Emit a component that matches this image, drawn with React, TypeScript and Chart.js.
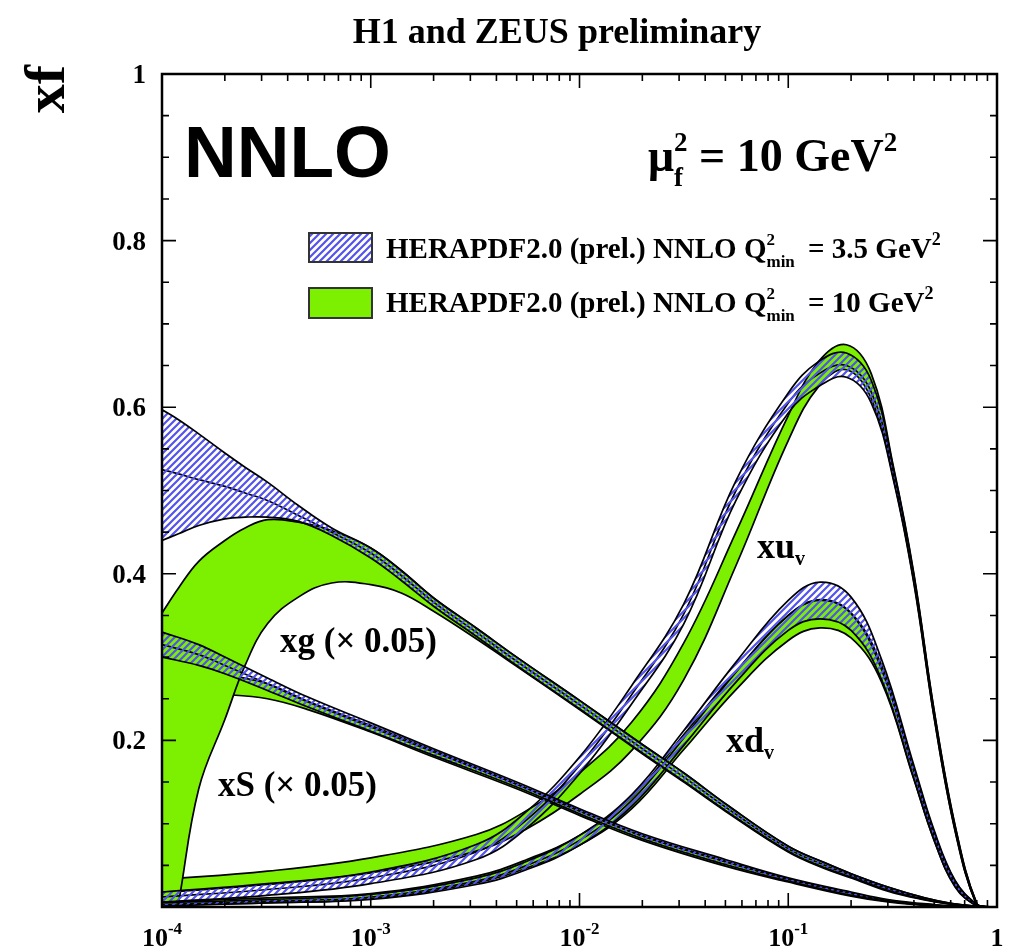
import React, { useEffect, useRef } from 'react';
import { Chart, registerables } from 'chart.js';
Chart.register(...registerables);

const SERIF = '"Liberation Serif", "Times New Roman", serif';
const SANS = '"Liberation Sans", Arial, sans-serif';

// ---------- axis ticks ----------
const xMajorTicks = [0.0001, 0.001, 0.01, 0.1, 1];
const xTickBase = ['10', '10', '10', '10', '1'];
const xTickExp = ['-4', '-3', '-2', '-1', ''];
const yMajorTicks = [0, 0.2, 0.4, 0.6, 0.8, 1];
const yTickLabels = ['', '0.2', '0.4', '0.6', '0.8', '1'];

// ---------- xg (x 0.05) ----------
const xgX = [0.0001, 0.00012, 0.00015, 0.0002, 0.00025, 0.00032, 0.00045, 0.00065, 0.001, 0.0014, 0.002, 0.0032, 0.005, 0.01, 0.02, 0.032, 0.05, 0.1, 0.15, 0.2, 0.3, 0.45, 0.6, 0.8, 1];
const xgHatchHi = [0.597, 0.585, 0.568, 0.545, 0.528, 0.51, 0.482, 0.455, 0.431, 0.404, 0.371, 0.335, 0.3, 0.248, 0.195, 0.16, 0.124, 0.073, 0.053, 0.04, 0.024, 0.011, 0.0045, 0.001, 0];
const xgHatchMid = [0.525, 0.52, 0.513, 0.505, 0.497, 0.488, 0.47, 0.45, 0.425, 0.398, 0.366, 0.33, 0.295, 0.243, 0.19, 0.155, 0.12, 0.07, 0.05, 0.038, 0.022, 0.01, 0.004, 0.0008, 0];
const xgHatchLo = [0.44, 0.448, 0.458, 0.466, 0.468, 0.468, 0.463, 0.446, 0.419, 0.392, 0.361, 0.325, 0.29, 0.238, 0.185, 0.15, 0.116, 0.067, 0.047, 0.036, 0.02, 0.009, 0.0035, 0.0006, 0];
const xgGreenHi = [0.353, 0.383, 0.415, 0.44, 0.455, 0.465, 0.462, 0.452, 0.431, 0.404, 0.371, 0.335, 0.3, 0.248, 0.195, 0.16, 0.124, 0.073, 0.053, 0.04, 0.024, 0.011, 0.0045, 0.001, 0];
const xgGreenMid = [-0.03, 0.092, 0.22, 0.3, 0.335, 0.365, 0.397, 0.413, 0.418, 0.398, 0.364, 0.328, 0.294, 0.242, 0.189, 0.154, 0.119, 0.069, 0.049, 0.037, 0.021, 0.0095, 0.0038, 0.0007, 0];
const xgGreenLo = [-0.1, 0.005, 0.142, 0.225, 0.29, 0.34, 0.372, 0.389, 0.387, 0.377, 0.355, 0.322, 0.289, 0.237, 0.184, 0.149, 0.115, 0.066, 0.046, 0.035, 0.019, 0.0085, 0.0033, 0.0005, 0];

// ---------- xS (x 0.05) ----------
const xSX = [0.0001, 0.00015, 0.0002, 0.00032, 0.0005, 0.001, 0.002, 0.005, 0.01, 0.02, 0.05, 0.1, 0.2, 0.3, 0.5, 0.7, 1];
const xSHatchHi = [0.33, 0.315, 0.3, 0.275, 0.252, 0.221, 0.19, 0.15, 0.118, 0.088, 0.057, 0.035, 0.018, 0.009, 0.003, 0.001, 0];
const xSHatchMid = [0.315, 0.303, 0.29, 0.268, 0.246, 0.216, 0.186, 0.147, 0.115, 0.085, 0.054, 0.033, 0.016, 0.008, 0.002, 0.0005, 0];
const xSHatchLo = [0.3, 0.29, 0.28, 0.26, 0.24, 0.211, 0.182, 0.144, 0.112, 0.082, 0.051, 0.031, 0.014, 0.007, 0.0015, 0, 0];
const xSGreenHi = [0.3, 0.29, 0.28, 0.268, 0.247, 0.218, 0.188, 0.148, 0.116, 0.086, 0.055, 0.034, 0.017, 0.008, 0.002, 0.0005, 0];
const xSGreenMid = [0.275, 0.27, 0.265, 0.258, 0.242, 0.214, 0.184, 0.145, 0.113, 0.083, 0.052, 0.032, 0.015, 0.007, 0.0015, 0.0003, 0];
const xSGreenLo = [0.25, 0.255, 0.255, 0.25, 0.237, 0.21, 0.18, 0.142, 0.11, 0.08, 0.049, 0.03, 0.013, 0.006, 0.001, 0, 0];

// ---------- xu_v ----------
const xuvX = [0.0001, 0.00032, 0.001, 0.0032, 0.0056, 0.01, 0.0178, 0.0316, 0.0562, 0.1, 0.14, 0.19, 0.25, 0.32, 0.4, 0.5, 0.63, 0.8, 0.9, 1];
const xuvGreenHi = [0.033, 0.043, 0.059, 0.087, 0.116, 0.161, 0.222, 0.317, 0.45, 0.59, 0.655, 0.675, 0.64, 0.527, 0.4, 0.236, 0.098, 0.004, 0, 0];
const xuvGreenMid = [0.025, 0.035, 0.05, 0.077, 0.105, 0.148, 0.205, 0.295, 0.43, 0.575, 0.64, 0.66, 0.625, 0.52, 0.395, 0.232, 0.095, 0.003, 0, 0];
const xuvGreenLo = [0.017, 0.027, 0.041, 0.067, 0.094, 0.135, 0.188, 0.273, 0.41, 0.56, 0.625, 0.645, 0.61, 0.513, 0.39, 0.228, 0.092, 0.002, 0, 0];
const xuvHatchHi = [0.018, 0.028, 0.042, 0.075, 0.115, 0.18, 0.266, 0.364, 0.512, 0.617, 0.655, 0.665, 0.632, 0.525, 0.398, 0.235, 0.097, 0.004, 0, 0];
const xuvHatchMid = [0.012, 0.021, 0.035, 0.066, 0.105, 0.17, 0.255, 0.352, 0.5, 0.605, 0.64, 0.65, 0.618, 0.518, 0.393, 0.231, 0.094, 0.003, 0, 0];
const xuvHatchLo = [0.006, 0.014, 0.028, 0.057, 0.095, 0.16, 0.244, 0.34, 0.488, 0.593, 0.625, 0.636, 0.605, 0.511, 0.388, 0.227, 0.091, 0.002, 0, 0];

// ---------- xd_v ----------
const xdvX = [0.0001, 0.00032, 0.001, 0.0032, 0.0056, 0.01, 0.0178, 0.0316, 0.0562, 0.1, 0.142, 0.2, 0.28, 0.4, 0.5, 0.63, 0.8, 0.9, 1];
const xdvGreenHi = [0.006, 0.011, 0.016, 0.037, 0.057, 0.086, 0.132, 0.207, 0.283, 0.35, 0.369, 0.353, 0.29, 0.167, 0.09, 0.031, 0.003, 0, 0];
const xdvGreenMid = [0.004, 0.008, 0.013, 0.033, 0.052, 0.08, 0.125, 0.198, 0.272, 0.335, 0.352, 0.338, 0.28, 0.16, 0.085, 0.028, 0.002, 0, 0];
const xdvGreenLo = [0.002, 0.005, 0.01, 0.029, 0.047, 0.074, 0.118, 0.189, 0.261, 0.32, 0.335, 0.323, 0.27, 0.153, 0.08, 0.025, 0.001, 0, 0];
const xdvHatchHi = [0.005, 0.009, 0.015, 0.035, 0.055, 0.086, 0.135, 0.212, 0.294, 0.368, 0.39, 0.372, 0.297, 0.17, 0.092, 0.032, 0.003, 0, 0];
const xdvHatchMid = [0.003, 0.007, 0.012, 0.031, 0.05, 0.08, 0.128, 0.203, 0.282, 0.35, 0.368, 0.352, 0.285, 0.162, 0.086, 0.028, 0.002, 0, 0];
const xdvHatchLo = [0.001, 0.005, 0.009, 0.027, 0.045, 0.074, 0.121, 0.194, 0.27, 0.332, 0.346, 0.332, 0.273, 0.154, 0.08, 0.024, 0.001, 0, 0];

const GREEN = '#7cf000';
const HATCH_BLUE = '#5252ee';

type Part = { t?: string; size: number; dy?: number; font?: string; sup?: string; sub?: string; gap?: number };

function rich(ctx: CanvasRenderingContext2D, parts: Part[], x: number, y: number, align: 'left' | 'center' | 'right') {
  const widths: number[] = [];
  let total = 0;
  for (const p of parts) {
    ctx.font = `bold ${p.size}px ${p.font ?? SERIF}`;
    let w = 0;
    if (p.gap !== undefined) w = p.gap;
    else if (p.t !== undefined) w = ctx.measureText(p.t).width;
    else w = Math.max(ctx.measureText(p.sup ?? '').width, ctx.measureText(p.sub ?? '').width);
    widths.push(w);
    total += w;
  }
  let cx = align === 'left' ? x : align === 'center' ? x - total / 2 : x - total;
  ctx.textAlign = 'left';
  ctx.textBaseline = 'alphabetic';
  parts.forEach((p, i) => {
    ctx.font = `bold ${p.size}px ${p.font ?? SERIF}`;
    if (p.gap !== undefined) { /* spacer */ }
    else if (p.t !== undefined) ctx.fillText(p.t, cx, y + (p.dy ?? 0));
    else {
      if (p.sup) ctx.fillText(p.sup, cx, y - p.size * 0.75);
      if (p.sub) ctx.fillText(p.sub, cx, y + p.size * 0.55);
    }
    cx += widths[i];
  });
}

function makeHatch(ctx: CanvasRenderingContext2D): CanvasPattern | string {
  const pc = document.createElement('canvas');
  pc.width = 7;
  pc.height = 7;
  const p = pc.getContext('2d');
  if (!p) return HATCH_BLUE;
  p.strokeStyle = HATCH_BLUE;
  p.lineWidth = 2.2;
  p.beginPath();
  p.moveTo(-1, 8); p.lineTo(8, -1);
  p.moveTo(-1, 1); p.lineTo(1, -1);
  p.moveTo(6, 8); p.lineTo(8, 6);
  p.stroke();
  return ctx.createPattern(pc, 'repeat') ?? HATCH_BLUE;
}

export default function App() {
  const ref = useRef<HTMLCanvasElement | null>(null);
  useEffect(() => {
    const canvas = ref.current;
    if (!canvas) return;
    const ctx0 = canvas.getContext('2d')!;
    const hatch = makeHatch(ctx0);

    const datasets: any[] = [];
    const addBand = (xs: number[], lo: number[], mid: number[], hi: number[], fillStyle: any, order: number) => {
      const pts = (ys: number[]) => xs.map((x, i) => ({ x, y: ys[i] }));
      const common = { pointRadius: 0, borderColor: '#000', borderWidth: 1.7, tension: 0.4, order };
      datasets.push({ ...common, data: pts(lo), fill: false });
      datasets.push({ ...common, data: pts(hi), fill: '-1', backgroundColor: fillStyle });
      datasets.push({ ...common, data: pts(mid), fill: false });
    };
    // green bands (Q2min = 10) behind
    addBand(xgX, xgGreenLo, xgGreenMid, xgGreenHi, GREEN, 2);
    addBand(xSX, xSGreenLo, xSGreenMid, xSGreenHi, GREEN, 2);
    addBand(xuvX, xuvGreenLo, xuvGreenMid, xuvGreenHi, GREEN, 2);
    addBand(xdvX, xdvGreenLo, xdvGreenMid, xdvGreenHi, GREEN, 2);
    // hatched bands (Q2min = 3.5) in front
    addBand(xgX, xgHatchLo, xgHatchMid, xgHatchHi, hatch, 1);
    addBand(xSX, xSHatchLo, xSHatchMid, xSHatchHi, hatch, 1);
    addBand(xuvX, xuvHatchLo, xuvHatchMid, xuvHatchHi, hatch, 1);
    addBand(xdvX, xdvHatchLo, xdvHatchMid, xdvHatchHi, hatch, 1);

    const deco = {
      id: 'deco',
      beforeDraw(chart: any) {
        const c = chart.ctx;
        c.save();
        c.fillStyle = '#fff';
        c.fillRect(0, 0, chart.width, chart.height);
        c.restore();
      },
      afterDraw(chart: any) {
        const c: CanvasRenderingContext2D = chart.ctx;
        const { left, right, top, bottom } = chart.chartArea;
        const xs = chart.scales.x;
        const ys = chart.scales.y;
        c.save();
        c.strokeStyle = '#000';
        c.fillStyle = '#000';
        // ticks
        c.lineWidth = 1.6;
        c.beginPath();
        for (let d = -4; d <= 0; d++) {
          const base = Math.pow(10, d);
          const px = xs.getPixelForValue(base);
          c.moveTo(px, bottom); c.lineTo(px, bottom - 14);
          c.moveTo(px, top); c.lineTo(px, top + 14);
          if (d < 0) {
            for (let k = 2; k <= 9; k++) {
              const mx = xs.getPixelForValue(k * base);
              c.moveTo(mx, bottom); c.lineTo(mx, bottom - 7);
              c.moveTo(mx, top); c.lineTo(mx, top + 7);
            }
          }
        }
        for (let i = 0; i <= 20; i++) {
          const v = i * 0.05;
          const py = ys.getPixelForValue(v);
          const L = i % 4 === 0 ? 14 : 7;
          c.moveTo(left, py); c.lineTo(left + L, py);
          c.moveTo(right, py); c.lineTo(right - L, py);
        }
        c.stroke();
        // frame
        c.lineWidth = 2.5;
        c.strokeRect(left, top, right - left, bottom - top);

        // y tick labels
        yMajorTicks.forEach((v, i) => {
          if (!yTickLabels[i]) return;
          rich(c, [{ t: yTickLabels[i], size: 27 }], left - 16, ys.getPixelForValue(v) + 9, 'right');
        });
        // x tick labels
        xMajorTicks.forEach((v, i) => {
          const parts: Part[] = [{ t: xTickBase[i], size: 26 }];
          if (xTickExp[i]) parts.push({ t: xTickExp[i], size: 17, dy: -12 });
          rich(c, parts, xs.getPixelForValue(v), 946, 'center');
        });
        // title
        rich(c, [{ t: 'H1 and ZEUS preliminary', size: 36 }], 557, 43, 'center');
        // y title
        c.save();
        c.translate(64, 89);
        c.rotate(-Math.PI / 2);
        rich(c, [{ t: 'xf', size: 58 }], 0, 0, 'center');
        c.restore();
        // NNLO
        rich(c, [{ t: 'NNLO', size: 73, font: SANS }], 184, 177, 'left');
        // mu_f^2
        rich(c, [{ t: 'μ', size: 46 }, { sup: '2', sub: 'f', size: 27 }, { t: ' = 10 GeV', size: 46 }, { t: '2', size: 27, dy: -20 }], 648, 171, 'left');
        // legend
        c.fillStyle = hatch as any;
        c.fillRect(309, 233, 63, 29);
        c.fillStyle = GREEN;
        c.fillRect(309, 288, 63, 30);
        c.lineWidth = 2;
        c.strokeStyle = '#333';
        c.strokeRect(309, 233, 63, 29);
        c.strokeRect(309, 288, 63, 30);
        c.fillStyle = '#000';
        rich(c, [{ t: 'HERAPDF2.0 (prel.) NNLO Q', size: 29 }, { sup: '2', sub: 'min', size: 17 }, { gap: 6 }, { t: ' = 3.5 GeV', size: 29 }, { t: '2', size: 18, dy: -13 }], 386, 258, 'left');
        rich(c, [{ t: 'HERAPDF2.0 (prel.) NNLO Q', size: 29 }, { sup: '2', sub: 'min', size: 17 }, { gap: 6 }, { t: ' = 10 GeV', size: 29 }, { t: '2', size: 18, dy: -13 }], 386, 312, 'left');
        // curve labels
        rich(c, [{ t: 'xg (× 0.05)', size: 35 }], 280, 652, 'left');
        rich(c, [{ t: 'xS (× 0.05)', size: 35 }], 218, 796, 'left');
        rich(c, [{ t: 'xu', size: 36 }, { t: 'v', size: 20, dy: 7 }], 757, 558, 'left');
        rich(c, [{ t: 'xd', size: 36 }, { t: 'v', size: 20, dy: 7 }], 726, 752, 'left');
        c.restore();
      },
    };

    const chart = new Chart(canvas, {
      type: 'line',
      data: { datasets },
      options: {
        animation: false,
        responsive: false,
        devicePixelRatio: 1,
        layout: { padding: { left: 162, right: 13, top: 74, bottom: 41 } },
        scales: {
          x: { type: 'logarithmic', min: 0.0001, max: 1, display: false },
          y: { type: 'linear', min: 0, max: 1, display: false },
        },
        plugins: {
          legend: { display: false },
          tooltip: { enabled: false },
          title: { display: false },
        },
        events: [],
      },
      plugins: [deco],
    } as any);
    return () => chart.destroy();
  }, []);

  return (
    <div style={{ position: 'absolute', left: 0, top: 0, width: 1010, height: 948, background: '#fff' }}>
      <canvas ref={ref} width={1010} height={948} style={{ display: 'block', width: 1010, height: 948 }} />
    </div>
  );
}
